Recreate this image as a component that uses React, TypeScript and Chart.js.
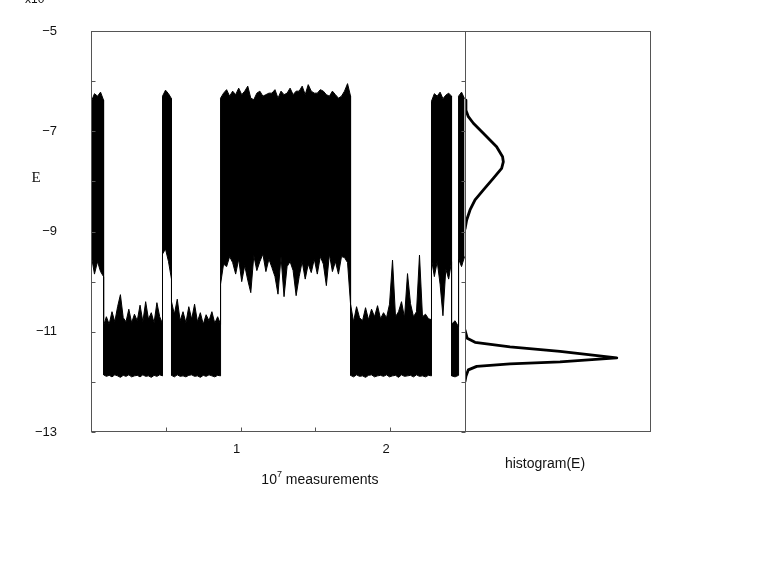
import React, { useEffect, useRef } from 'react';
import { Chart, registerables } from 'chart.js';

Chart.register(...registerables);

// ---------- axes ----------
const X_MIN = 0;
const X_MAX = 2.5;
const X_TICKS = [0.5, 1, 1.5, 2];
const X_LABELED = [1, 2];
const Y_MIN = -13;
const Y_MAX = -5;
const Y_TICKS = [-13, -12, -11, -10, -9, -8, -7, -6, -5];
const Y_LABELED = [-13, -11, -9, -7, -5];

// ---------- time series: segments (units of 10^7 measurements) ----------
const segBounds = [0.003, 0.084, 0.478, 0.538, 0.866, 1.735, 2.276, 2.41, 2.457, 2.497];

// upper / lower envelope of E inside each segment
const hiA = [-6.4, -6.25, -6.3, -6.22, -6.38];
const loA = [-9.5, -9.85, -9.6, -9.8, -9.9];

const hiB = [-10.88, -10.7, -10.85, -10.6, -10.8, -10.5, -10.26, -10.72, -10.8, -10.55, -10.82, -10.65, -10.78, -10.47, -10.8, -10.4, -10.75, -10.62, -10.82, -10.42, -10.7, -10.84];
const loB = [-11.86, -11.89, -11.87, -11.9, -11.86, -11.88, -11.91, -11.87, -11.89, -11.86, -11.9, -11.88, -11.87, -11.9, -11.86, -11.89, -11.88, -11.91, -11.87, -11.89, -11.86, -11.88];

const hiC = [-6.3, -6.18, -6.25, -6.35];
const loC = [-9.45, -9.35, -9.6, -9.95];

const hiD = [-10.4, -10.65, -10.35, -10.78, -10.6, -10.82, -10.5, -10.75, -10.45, -10.8, -10.62, -10.85, -10.66, -10.78, -10.6, -10.83, -10.7, -10.85];
const loD = [-11.87, -11.9, -11.86, -11.89, -11.88, -11.9, -11.87, -11.86, -11.89, -11.88, -11.91, -11.87, -11.89, -11.86, -11.88, -11.9, -11.87, -11.88];

const hiE = [-6.34, -6.24, -6.17, -6.3, -6.2, -6.27, -6.14, -6.27, -6.2, -6.1, -6.34, -6.37, -6.24, -6.2, -6.3, -6.27, -6.24, -6.24, -6.17, -6.34, -6.2, -6.27, -6.24, -6.14, -6.27, -6.2, -6.2, -6.1, -6.27, -6.07, -6.2, -6.24, -6.24, -6.17, -6.2, -6.27, -6.3, -6.2, -6.27, -6.34, -6.3, -6.2, -6.05, -6.3];
const loE = [-10.05, -9.65, -9.7, -9.5, -9.62, -9.85, -9.55, -10.0, -9.68, -9.97, -10.22, -9.48, -9.78, -9.6, -9.45, -9.8, -9.55, -9.72, -9.9, -10.25, -9.5, -10.3, -9.7, -9.6, -9.78, -10.28, -9.9, -9.6, -9.95, -9.65, -9.82, -9.55, -9.85, -9.5, -9.65, -10.08, -9.45, -9.8, -9.6, -9.85, -9.5, -9.52, -9.62, -10.45];

const hiF = [-10.45, -10.8, -10.5, -10.72, -10.78, -10.52, -10.76, -10.55, -10.7, -10.48, -10.74, -10.62, -10.72, -10.45, -9.57, -10.7, -10.6, -10.4, -10.72, -9.84, -10.44, -10.7, -10.6, -9.47, -10.7, -10.65, -10.74, -10.76];
const loF = [-11.87, -11.9, -11.86, -11.89, -11.88, -11.91, -11.87, -11.86, -11.9, -11.88, -11.87, -11.89, -11.86, -11.9, -11.88, -11.87, -11.91, -11.86, -11.89, -11.88, -11.87, -11.9, -11.86, -11.89, -11.88, -11.9, -11.87, -11.88];

const hiG = [-6.4, -6.25, -6.3, -6.22, -6.35, -6.28, -6.24, -6.3];
const loG = [-9.55, -9.9, -9.6, -10.05, -10.68, -9.75, -9.95, -9.6];

const hiH = [-10.85, -10.78, -10.9];
const loH = [-11.88, -11.9, -11.87];

const hiI = [-6.3, -6.22, -6.35];
const loI = [-9.55, -9.7, -9.5];

const segHi = [hiA, hiB, hiC, hiD, hiE, hiF, hiG, hiH, hiI];
const segLo = [loA, loB, loC, loD, loE, loF, loG, loH, loI];

// ---------- histogram(E) ----------
const histE = [-6.38, -6.58, -6.71, -6.84, -7.11, -7.31, -7.51, -7.61, -7.74, -7.94, -8.17, -8.37, -8.57, -8.77, -8.95,
  null,
  -10.97, -11.13, -11.21, -11.3, -11.39, -11.52, -11.6, -11.64, -11.69, -11.76, -11.89, -11.99];
const histCount = [0, 0.005, 0.018, 0.045, 0.117, 0.17, 0.202, 0.206, 0.197, 0.152, 0.099, 0.054, 0.027, 0.009, 0,
  null,
  0, 0.012, 0.054, 0.242, 0.511, 0.816, 0.511, 0.242, 0.063, 0.018, 0.005, 0];

// ---------- texts ----------
const Y_TITLE = 'E';
const Y_TITLE_AT = -7.93;
const X_TITLE_BASE = '10';
const X_TITLE_EXP = '7';
const X_TITLE_REST = ' measurements';
const X_TITLE_AT = 1.53;
const HIST_TITLE = 'histogram(E)';
const HIST_TITLE_AT = 0.43;
const SCALE_NOTE = 'x10';

const FRAME = '#555555';
const SANS = '"Liberation Sans", Arial, Helvetica, sans-serif';
const SERIF = '"Liberation Serif", "Times New Roman", serif';

function segmentPoints(arrs: number[][]) {
  const pts: { x: number; y: number }[] = [];
  arrs.forEach((vals, s) => {
    const a = segBounds[s];
    const b = segBounds[s + 1];
    const n = vals.length;
    vals.forEach((v, i) => {
      pts.push({ x: a + (n > 1 ? (i * (b - a)) / (n - 1) : 0), y: v });
    });
  });
  return pts;
}

const minus = (v: number) => (v < 0 ? '\u2212' + Math.abs(v) : String(v));

const noPad = (s: any) => {
  s.paddingTop = 0;
  s.paddingBottom = 0;
  s.paddingLeft = 0;
  s.paddingRight = 0;
};

const framePlugin = {
  id: 'frameAndTexts',
  afterDatasetsDraw(chart: any) {
    const { ctx, chartArea: a, scales } = chart;
    const xs = scales.x;
    const x2 = scales.x2;
    const ys = scales.y;
    const L = Math.round(a.left) + 0.5;
    const R = Math.round(a.right) - 0.5;
    const T = Math.round(a.top) + 0.5;
    const B = Math.round(a.bottom) - 0.5;
    const M = Math.round(xs.right) + 0.5;
    ctx.save();
    ctx.strokeStyle = FRAME;
    ctx.lineWidth = 1;
    ctx.strokeRect(L, T, R - L, B - T);
    ctx.beginPath();
    ctx.moveTo(M, T);
    ctx.lineTo(M, B);
    for (const v of Y_TICKS) {
      const py = Math.round(ys.getPixelForValue(v)) + 0.5;
      ctx.moveTo(L, py);
      ctx.lineTo(L + 4, py);
      ctx.moveTo(M, py);
      ctx.lineTo(M - 4, py);
    }
    for (const v of X_TICKS) {
      const px = Math.round(xs.getPixelForValue(v)) + 0.5;
      ctx.moveTo(px, B);
      ctx.lineTo(px, B - 4);
    }
    ctx.stroke();

    ctx.fillStyle = '#111';
    // y title
    ctx.font = `15px ${SERIF}`;
    ctx.textAlign = 'center';
    ctx.textBaseline = 'middle';
    ctx.fillText(Y_TITLE, 36, ys.getPixelForValue(Y_TITLE_AT));

    // x title with superscript
    const baseY = B + 52;
    ctx.textBaseline = 'alphabetic';
    ctx.textAlign = 'left';
    ctx.font = `14px ${SANS}`;
    const w1 = ctx.measureText(X_TITLE_BASE).width;
    const w3 = ctx.measureText(X_TITLE_REST).width;
    ctx.font = `9px ${SANS}`;
    const w2 = ctx.measureText(X_TITLE_EXP).width;
    const total = w1 + w2 + w3;
    let cx = xs.getPixelForValue(X_TITLE_AT) - total / 2;
    ctx.font = `14px ${SANS}`;
    ctx.fillText(X_TITLE_BASE, cx, baseY);
    cx += w1;
    ctx.font = `9px ${SANS}`;
    ctx.fillText(X_TITLE_EXP, cx, baseY - 7);
    cx += w2;
    ctx.font = `14px ${SANS}`;
    ctx.fillText(X_TITLE_REST, cx, baseY);

    // histogram title
    ctx.textAlign = 'center';
    ctx.fillText(HIST_TITLE, x2.getPixelForValue(HIST_TITLE_AT), B + 36);

    // scale note (cut at top)
    ctx.textAlign = 'left';
    ctx.font = `12px ${SANS}`;
    ctx.fillText(SCALE_NOTE, 25, 2.5);
    ctx.restore();
  },
};

export default function App() {
  const ref = useRef<HTMLCanvasElement | null>(null);

  useEffect(() => {
    const canvas = ref.current;
    if (!canvas) return;
    const hiPts = segmentPoints(segHi);
    const loPts = segmentPoints(segLo);
    const histPts = histE.map((e, i) => ({ x: histCount[i] as any, y: e as any }));

    const chart = new Chart(canvas, {
      type: 'line',
      data: {
        datasets: [
          {
            data: hiPts,
            xAxisID: 'x',
            yAxisID: 'y',
            borderColor: '#000',
            borderWidth: 1,
            pointRadius: 0,
            tension: 0,
            fill: false,
          },
          {
            data: loPts,
            xAxisID: 'x',
            yAxisID: 'y',
            borderColor: '#000',
            borderWidth: 1,
            pointRadius: 0,
            tension: 0,
            fill: '-1',
            backgroundColor: '#000',
          },
          {
            data: histPts,
            xAxisID: 'x2',
            yAxisID: 'y',
            borderColor: '#000',
            borderWidth: 2.8,
            borderJoinStyle: 'round',
            borderCapStyle: 'round',
            pointRadius: 0,
            tension: 0,
            fill: false,
            spanGaps: false,
          },
        ] as any,
      },
      options: {
        animation: false,
        responsive: false,
        maintainAspectRatio: false,
        events: [],
        layout: { padding: { left: 0, top: 31, right: 131, bottom: 106 } },
        plugins: { legend: { display: false }, tooltip: { enabled: false } },
        scales: {
          x: {
            type: 'linear',
            position: 'bottom',
            stack: 'bottom',
            stackWeight: 374,
            min: X_MIN,
            max: X_MAX,
            grid: { display: false, drawTicks: false },
            border: { display: false },
            ticks: {
              stepSize: 0.5,
              autoSkip: false,
              maxRotation: 0,
              padding: 10,
              labelOffset: -4,
              color: '#111',
              font: { family: SANS, size: 13 },
              callback: (v: any) => (X_LABELED.includes(Number(v)) ? String(v) : ''),
            },
            afterFit: (s: any) => {
              s.height = 30;
              noPad(s);
            },
          },
          x2: {
            type: 'linear',
            position: 'bottom',
            stack: 'bottom',
            stackWeight: 186,
            min: 0,
            max: 1,
            grid: { display: false, drawTicks: false },
            border: { display: false },
            ticks: { display: false },
            afterFit: (s: any) => {
              s.height = 30;
              noPad(s);
            },
          },
          y: {
            type: 'linear',
            position: 'left',
            min: Y_MIN,
            max: Y_MAX,
            grid: { display: false, drawTicks: false },
            border: { display: false },
            ticks: {
              stepSize: 1,
              autoSkip: false,
              padding: 34,
              color: '#111',
              font: { family: SANS, size: 13 },
              callback: (v: any) => (Y_LABELED.includes(Number(v)) ? minus(Number(v)) : ''),
            },
            afterFit: (s: any) => {
              s.width = 91;
              noPad(s);
            },
          },
        } as any,
      },
      plugins: [framePlugin],
    });
    return () => chart.destroy();
  }, []);

  return (
    <div style={{ position: 'fixed', left: 0, top: 0, width: 782, height: 568, background: '#fff' }}>
      <canvas ref={ref} width={782} height={568} style={{ display: 'block', width: 782, height: 568 }} />
    </div>
  );
}
